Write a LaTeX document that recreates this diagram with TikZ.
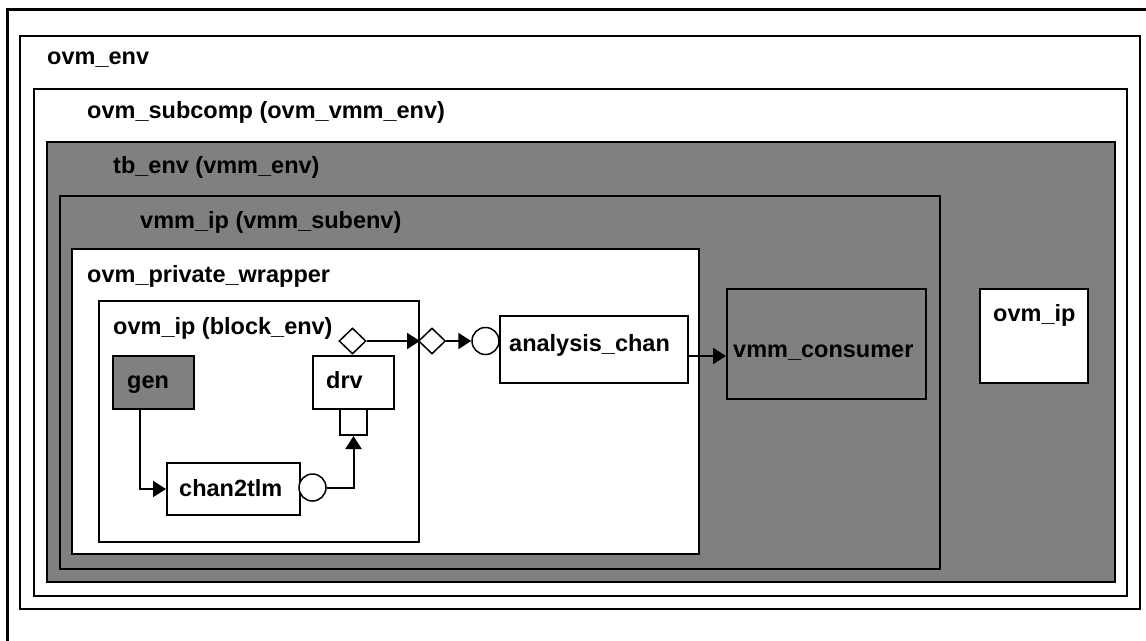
\documentclass[tikz,border=0pt]{standalone}
\usepackage{fontspec}
\setmainfont{Liberation Sans}
\usetikzlibrary{arrows.meta,shapes.geometric,calc}
\definecolor{shade}{RGB}{128,128,128}
\tikzset{
  frame/.style={draw=black, line width=2pt, rectangle, inner sep=0pt, anchor=north west},
  white box/.style={frame, fill=white},
  gray box/.style={frame, fill=shade},
  lbl/.style={anchor=base west, inner sep=0pt, font=\bfseries\fontsize{23.5}{28}\selectfont},
  port/.style={circle, draw, fill=white, line width=1.5pt, minimum size=27pt, inner sep=0pt},
  dport/.style={diamond, draw, fill=white, line width=1.5pt, minimum width=27pt, minimum height=26pt, inner sep=0pt},
  conn/.style={line width=2pt, -{Triangle[length=13pt,width=16pt]}},
}
\begin{document}
\begin{tikzpicture}[x=1pt,y=-1pt]
\useasboundingbox (0,0) rectangle (1146,640);
% outer frame, running off the page to the right and bottom
\begin{scope}
  \clip (0,0) rectangle (1146,640);
  \draw[line width=3pt] (7,9) rectangle (1180,680);
\end{scope}

% nested environments
\node[white box, minimum width=1120pt, minimum height=573pt] (ovmenv) at (19,35) {};
\node[lbl] (ovmenvlbl) at (47,64) {ovm\_env};

\node[white box, minimum width=1093pt, minimum height=507pt] (subcomp) at (33,88) {};
\node[lbl] (subcomplbl) at (87,118) {ovm\_subcomp (ovm\_vmm\_env)};

\node[gray box, minimum width=1068pt, minimum height=440pt] (tbenv) at (46,141) {};
\node[lbl] (tbenvlbl) at (113,173) {tb\_env (vmm\_env)};

\node[gray box, minimum width=880pt, minimum height=373pt] (vmmip) at (59,195) {};
\node[lbl] (vmmiplbl) at (140,228) {vmm\_ip (vmm\_subenv)};

\node[white box, minimum width=627pt, minimum height=305pt] (wrapper) at (71,248) {};
\node[lbl] (wrapperlbl) at (87,282) {ovm\_private\_wrapper};

\node[white box, minimum width=320pt, minimum height=241pt] (blockenv) at (98,300) {};
\node[lbl] (blockenvlbl) at (113,334) {ovm\_ip (block\_env)};

% components inside ovm_ip (block_env)
\node[gray box, minimum width=81pt, minimum height=53pt] (gen) at (112,355) {};
\node[lbl] (genlbl) at (127,388) {gen};

\node[white box, minimum width=81pt, minimum height=53pt] (drv) at (312,355) {};
\node[lbl] (drvlbl) at (326,388) {drv};
\node[white box, minimum width=27pt, minimum height=26pt] (sq) at (339,408) {};

\node[white box, minimum width=133pt, minimum height=52pt] (chan2tlm) at (166,462) {};
\node[lbl] (chan2tlmlbl) at (179,496) {chan2tlm};

% analysis channel and consumers
\node[white box, minimum width=188pt, minimum height=67pt] (analysis) at (499,315) {};
\node[lbl] (analysislbl) at (509,351) {analysis\_chan};

\node[gray box, minimum width=199pt, minimum height=110pt] (consumer) at (726,288) {};
\node[lbl] (consumerlbl) at (733,357) {vmm\_consumer};

\node[white box, minimum width=108pt, minimum height=94pt] (ovmip) at (979,288) {};
\node[lbl] (ovmiplbl) at (993,321) {ovm\_ip};

% ports
\node[port] (p1) at (312.5,487.5) {};
\node[dport] (d1) at (352.5,341) {};
\node[dport] (d2) at (432,341) {};
\node[port] (p2) at (485.5,341) {};

% connectors
\coordinate (aout) at ($(analysis.east)+(0,6.5)$);
\draw[conn] ([xshift=-13.5pt]gen.south) |- (chan2tlm.west);
\draw[conn] (p1.east) -| (sq.south);
\draw[conn] (d1.east) -- (d1.east -| blockenv.east);
\draw[conn] (d2.east) -- (p2.west);
\draw[conn] (aout) -- (aout -| consumer.west);
\end{tikzpicture}
\end{document}
